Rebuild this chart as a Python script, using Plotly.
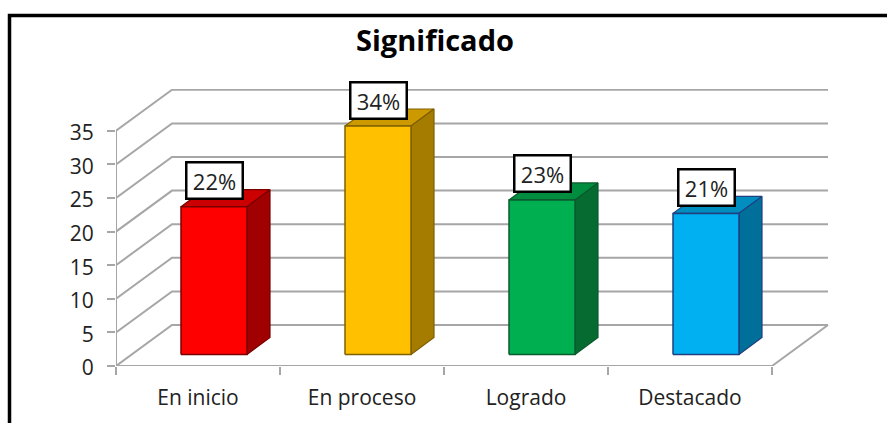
import plotly.graph_objects as go

categories = ["En inicio", "En proceso", "Logrado", "Destacado"]
values = [22, 34, 23, 21]
labels = ["22%", "34%", "23%", "21%"]
y_ticks = [0, 5, 10, 15, 20, 25, 30, 35]
front_colors = ["#FF0000", "#FFC000", "#00B050", "#00B0F0"]
top_colors = ["#CC0000", "#CC9900", "#008D3F", "#008DC0"]
side_colors = ["#A00000", "#A67C00", "#066B30", "#00709A"]
edge_colors = ["#7A0000", "#7F6000", "#0B5A2E", "#1F3F7F"]

W, H = 887, 423
L, R, T, B = 116, 829, 89, 366
px_x = 164.0          # pixels per category
px_y = 6.72           # pixels per value unit
dx = 56 / px_x        # floor depth
dy = 41 / px_y
bar_w = 66 / px_x
off_x = 16 / px_x     # bar position inside the depth
off_y = 11.5 / px_y
bar_dx = 23 / px_x    # bar depth
bar_dy = 17 / px_y
GRID = "#A6A6A6"

fig = go.Figure()


def poly(xs, ys, fill, edge, width=1.2):
    fig.add_trace(go.Scatter(x=xs, y=ys, mode="lines", fill="toself", fillcolor=fill,
                             line=dict(color=edge, width=width), hoverinfo="skip", showlegend=False))


def line(xs, ys, width=2.0):
    fig.add_trace(go.Scatter(x=xs, y=ys, mode="lines", line=dict(color=GRID, width=width),
                             hoverinfo="skip", showlegend=False))


n = len(categories)
# walls and floor
for v in y_ticks:
    line([0, dx, n + dx], [v, v + dy, v + dy])
line([0, 0], [0, y_ticks[-1]])
line([0, n, n + dx], [0, 0, dy])

# bars
for i, v in enumerate(values):
    x0 = i + 0.5 + off_x - bar_w / 2
    x1 = x0 + bar_w
    y0 = off_y
    y1 = off_y + v
    ec = edge_colors[i]
    poly([x0, x1, x1 + bar_dx, x0 + bar_dx, x0], [y1, y1, y1 + bar_dy, y1 + bar_dy, y1], top_colors[i], ec)
    poly([x1, x1 + bar_dx, x1 + bar_dx, x1, x1], [y0, y0 + bar_dy, y1 + bar_dy, y1, y0], side_colors[i], ec)
    poly([x0, x1, x1, x0, x0], [y0, y0, y1, y1, y0], front_colors[i], ec, 1.5)
    fig.add_annotation(x=(x0 + x1) / 2, y=y1, xref="x", yref="y", text=labels[i], showarrow=False,
                       yshift=26, xshift=0.5, width=54, height=34, bgcolor="#FFFFFF", bordercolor="#000000",
                       borderwidth=2.5, borderpad=0, align="center", valign="middle",
                       font=dict(family="Open Sans", size=22, color="#222222"))

paper_x = lambda p: (p - L) / (R - L)
paper_y = lambda p: (B - p) / (B - T)
fig.add_shape(type="path", xref="paper", yref="paper",
              path=f"M {paper_x(9.5)} {paper_y(H + 5)} L {paper_x(9.5)} {paper_y(15.5)} L {paper_x(W + 5)} {paper_y(15.5)}",
              line=dict(color="#000000", width=3.5))

fig.update_layout(
    width=W, height=H, autosize=False, showlegend=False,
    margin=dict(l=L, r=W - R, t=T, b=H - B, pad=0),
    paper_bgcolor="#FFFFFF", plot_bgcolor="#FFFFFF",
    title=dict(text="<b>Significado</b>", x=435 / W, xanchor="center", xref="container", automargin=False,
               y=1 - 41 / H, yanchor="middle", font=dict(family="Open Sans", size=29, color="#000000")),
    xaxis=dict(range=[0, (R - L) / px_x], tickvals=[i + 0.5 for i in range(n)], ticktext=categories, automargin=False,
               ticks="outside", ticklen=13, tickcolor="rgba(0,0,0,0)", showgrid=False, zeroline=False, showline=False,
               tickfont=dict(family="Open Sans", size=21, color="#222222"),
               minor=dict(tickvals=list(range(n + 1)), ticks="outside", ticklen=8, tickcolor=GRID, tickwidth=1.5, showgrid=False)),
    yaxis=dict(range=[0, (B - T) / px_y], tickvals=y_ticks, ticks="outside", ticklen=8, tickcolor=GRID, tickwidth=1.5, automargin=False,
               showgrid=False, zeroline=False, showline=False, ticklabelstandoff=9, ticklabelshift=2,
               tickfont=dict(family="Open Sans", size=21, color="#222222")),
)
fig.write_html("out.html", config={"displayModeBar": False},
               post_script="document.body.style.margin='0';document.documentElement.style.overflow='hidden';")
